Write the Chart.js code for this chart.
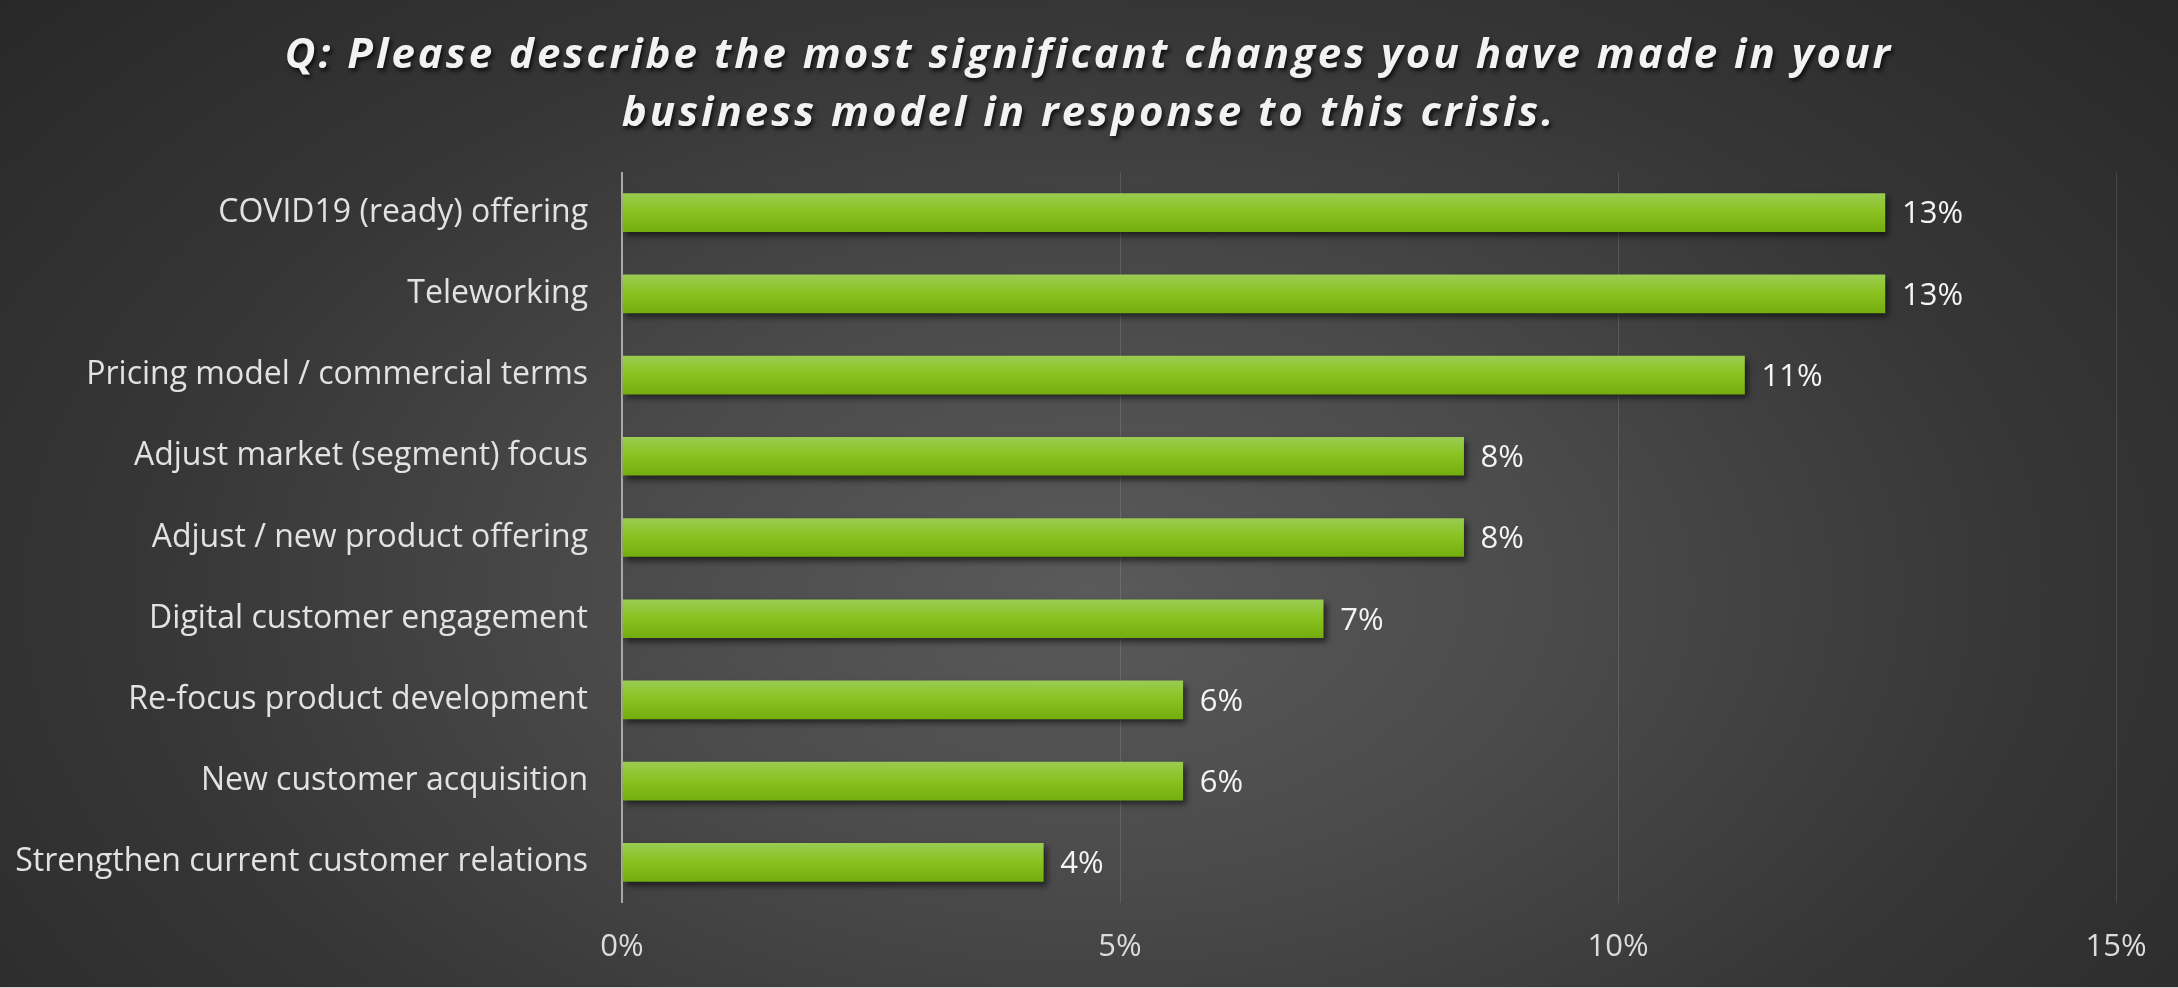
<!DOCTYPE html>
<html>
<head>
<meta charset="utf-8">
<script src="https://cdn.jsdelivr.net/npm/chart.js@4/dist/chart.umd.min.js"></script>
<style>
  html, body { margin: 0; padding: 0; background: #262626; }
  #wrap {
    position: relative;
    width: 2178px;
    height: 988px;
    box-sizing: border-box;
    border-bottom: 1px solid #d0d0d0;
    background: radial-gradient(ellipse 70% 95% at 50% 60%, #5a5a5a 0%, #4b4b4b 30%, #363636 62%, #262626 100%);
  }
</style>
</head>
<body>
<div id="wrap"><canvas id="myChart" width="2178" height="987"></canvas></div>
<script>
let titleLines = [
  'Q: Please describe the most significant changes you have made in your',
  'business model in response to this crisis.'
];
let categories = [
  'COVID19 (ready) offering',
  'Teleworking',
  'Pricing model / commercial terms',
  'Adjust market (segment) focus',
  'Adjust / new product offering',
  'Digital customer engagement',
  'Re-focus product development',
  'New customer acquisition',
  'Strengthen current customer relations'
];
// share of respondents, in percent
let shares = [12.68, 12.68, 11.27, 8.45, 8.45, 7.04, 5.63, 5.63, 4.23];
let xTicks = [0, 5, 10, 15];

window.onload = function() {
  let ctx = document.getElementById('myChart');

  // title with letter spacing and a soft shadow
  let titlePlugin = {
    id: 'bigTitle',
    afterDraw: (chart) => {
      let c = chart.ctx;
      c.save();
      c.font = 'italic 700 42px "Open Sans"';
      c.letterSpacing = '3px';
      c.fillStyle = '#f2f2f2';
      c.textAlign = 'center';
      c.textBaseline = 'alphabetic';
      c.shadowColor = 'rgba(0,0,0,0.75)';
      c.shadowOffsetX = 2;
      c.shadowOffsetY = 3;
      c.shadowBlur = 4;
      titleLines.forEach((line, i) => {
        c.fillText(line, chart.width / 2, 68 + i * 58);
      });
      c.restore();
    }
  };

  // vertical green gradient per bar, drop shadow, then the value labels
  let barDecor = {
    id: 'barDecor',
    beforeDatasetsDraw: (chart) => {
      let c = chart.ctx;
      let meta = chart.getDatasetMeta(0);
      meta.data.forEach((bar) => {
        let half = bar.height / 2;
        let g = c.createLinearGradient(0, bar.y - half, 0, bar.y + half);
        g.addColorStop(0, '#9acb52');
        g.addColorStop(0.45, '#8bc322');
        g.addColorStop(1, '#74ad0e');
        bar.options.backgroundColor = g;
      });
      c.save();
      c.shadowColor = 'rgba(0,0,0,0.55)';
      c.shadowOffsetX = 3;
      c.shadowOffsetY = 4;
      c.shadowBlur = 6;
    },
    afterDatasetsDraw: (chart) => {
      let c = chart.ctx;
      c.restore();
      c.save();
      c.font = '31px "Open Sans"';
      c.fillStyle = '#f4f4f4';
      c.textAlign = 'left';
      c.textBaseline = 'middle';
      let meta = chart.getDatasetMeta(0);
      meta.data.forEach((bar, i) => {
        c.fillText(Math.round(shares[i]) + '%', bar.x + 17, bar.y + 2);
      });
      c.restore();
    }
  };

  new Chart(ctx, {
    type: 'bar',
    data: {
      labels: categories,
      datasets: [{
        data: shares,
        // scriptable so every bar keeps its own options object
        backgroundColor: () => '#88c21f',
        borderWidth: 0,
        barThickness: 38
      }]
    },
    options: {
      indexAxis: 'y',
      responsive: false,
      animation: false,
      layout: {
        padding: { top: 172, right: 62, bottom: 0, left: 0 }
      },
      plugins: {
        legend: { display: false },
        tooltip: { enabled: false },
        title: { display: false }
      },
      scales: {
        x: {
          min: 0,
          max: 15,
          afterBuildTicks: (scale) => {
            scale.ticks = xTicks.map(v => ({ value: v }));
          },
          afterFit: (scale) => { scale.height = 84; },
          grid: {
            drawTicks: false,
            color: (c) => c.tick && c.tick.value === 0 ? '#a8a8a8' : 'rgba(255,255,255,0.12)',
            lineWidth: (c) => c.tick && c.tick.value === 0 ? 2 : 1
          },
          border: { display: false },
          ticks: {
            padding: 26,
            color: '#dcdcdc',
            font: { family: 'Open Sans', size: 31 },
            callback: (v) => v + '%'
          }
        },
        y: {
          afterFit: (scale) => { scale.width = 622; },
          grid: { display: false, drawTicks: false },
          border: { display: false },
          ticks: {
            padding: 34,
            color: '#e2e2e2',
            font: { family: 'Open Sans', size: 32 }
          }
        }
      }
    },
    plugins: [titlePlugin, barDecor]
  });
};
</script>
</body>
</html>
